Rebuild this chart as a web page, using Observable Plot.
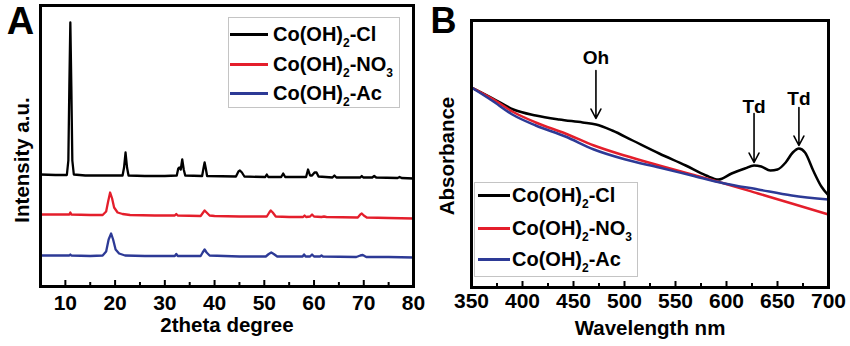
<!DOCTYPE html>
<html>
<head>
<meta charset="utf-8">
<script src="https://cdn.jsdelivr.net/npm/d3@7"></script>
<script src="https://cdn.jsdelivr.net/npm/@observablehq/plot@0.6"></script>
<style>
  html, body { margin: 0; padding: 0; background: #fff; }
  #wrap { position: relative; width: 850px; height: 346px; display: flex; font-family: "Liberation Sans", Arial, sans-serif; font-weight: bold; }
  .legend { position: absolute; border: 1px solid #c4c4c4; background: #fff; box-sizing: border-box; }
  .row { position: absolute; left: 0; display: flex; align-items: center; height: 24px; }
  .swatch { height: 3px; }
  .lbl { font-size: 20px; font-weight: bold; white-space: nowrap; color: #000; line-height: 24px; }
  .lbl sub { font-size: 12px; vertical-align: -6px; line-height: 0; }
</style>
</head>
<body>
<div id="wrap"></div>
<script>
// ---------- data ----------
const seriesNames = ["Co(OH)<sub>2</sub>-Cl", "Co(OH)<sub>2</sub>-NO<sub>3</sub>", "Co(OH)<sub>2</sub>-Ac"];
const seriesColors = ["#000000", "#e41e2b", "#2d3a96"];

// Panel A: XRD (2theta degree, intensity a.u.)
const xrdCl = [
  [5,112],[8,111.5],[10.3,111.5],[10.6,126],[10.8,200],[11.0,264],[11.2,200],[11.4,126],[11.7,112],
  [14,111],[18,111],[21.5,111],[21.8,119],[22.1,134],[22.4,119],[22.7,111],
  [26,110.5],[30,110.5],[32.4,111],[32.7,118],[32.9,119],[33.2,117],[33.5,127],[33.8,117],[34.1,111],
  [37.5,110.5],[37.8,119],[38.0,124],[38.2,119],[38.5,110.5],
  [44.3,110],[44.8,115],[45.1,116],[45.5,114],[46,110],
  [50.2,109.5],[50.5,112],[50.8,109.5],
  [53.4,109.5],[53.8,113],[54.2,109.5],
  [58.4,109.5],[58.8,117],[59.2,111],[59.6,111],[60.1,114],[60.5,114],[60.9,110],
  [63.7,109],[64.1,111],[64.5,109],
  [69.3,109],[69.6,110.5],[69.9,109],
  [71.7,109],[72.1,110.5],[72.5,109],
  [76.8,108.5],[77.2,109.5],[77.6,108.5],
  [80,108]
];
const xrdNO3 = [
  [5,72],[8,72],[10.8,72],[11.0,74],[11.2,72],[15,71.5],[17.5,71.5],[18.2,75],[18.6,85],[19.0,94],
  [19.4,88],[19.8,79],[20.5,74],[21.5,72.5],[23,71.5],[28,71],[32,71],[32.3,72.5],[32.6,71],
  [37.2,70.5],[37.7,74],[38.0,76],[38.4,74],[39,71],[40,70.5],[45,70],[50.5,70],[51.0,74],[51.3,76],
  [51.7,74],[52.3,70],[55,69.5],[57.8,69.5],[58.1,71],[58.4,69.5],[59.2,70],[59.6,72],[60.0,70],
  [61.5,69.5],[62,70],[62.5,69.5],[68.8,69],[69.3,72],[69.6,73],[70.0,71],[70.6,69],[75,68.5],[80,68]
];
const xrdAc = [
  [5,31],[8,31],[10.8,31],[11.0,32],[11.2,31],[15,30.5],[17.5,31],[18.2,35],[18.7,47],[19.2,53],
  [19.6,47],[20.1,37],[20.8,33],[22,31],[26,30.5],[32,30.5],[32.3,32.5],[32.6,30.5],
  [37.2,30.5],[37.6,34],[38.0,37],[38.4,34],[39.0,31],[45,30],[50.3,30],[50.9,32.5],[51.4,34],
  [51.9,32.5],[52.6,30],[57.7,30],[58.0,32],[58.3,30],[59.2,30],[59.6,32],[60.0,30],[61.2,30],
  [61.5,31],[61.8,30],[68.5,29.5],[69.3,31],[69.8,31.5],[70.5,29.5],[75,29.5],[80,29]
];
const xrdMajorTicks = [10, 20, 30, 40, 50, 60, 70, 80];
const xrdMinorTicks = [15, 25, 35, 45, 55, 65, 75];

// Panel B: UV-vis (wavelength nm, absorbance a.u.)
const uvCl = [
  [350,2.00],[371,1.89],[391,1.78],[413,1.72],[436,1.68],[459,1.65],[472,1.63],[488,1.57],[508,1.47],
  [534,1.34],[560,1.22],[580,1.12],[592,1.08],[605,1.14],[618,1.19],[627,1.22],[634,1.21],[643,1.17],
  [650,1.18],[658,1.25],[665,1.35],[671,1.39],[677,1.35],[685,1.17],[693,1.01],[700,0.92]
];
const uvNO3 = [
  [350,2.00],[370,1.89],[390,1.76],[413,1.65],[442,1.54],[470,1.42],[500,1.32],[534,1.22],[566,1.13],
  [598,1.04],[631,0.94],[664,0.84],[700,0.73]
];
const uvAc = [
  [350,2.00],[370,1.87],[390,1.73],[413,1.62],[442,1.51],[470,1.38],[501,1.28],[534,1.20],[566,1.12],
  [598,1.04],[631,0.98],[664,0.92],[700,0.88]
];
const uvMajorTicks = [350, 400, 450, 500, 550, 600, 650, 700];
const uvMinorTicks = [375, 425, 475, 525, 575, 625, 675];

// annotations (panel B)
const annotText = ["Oh", "Td", "Td"];
const annotNm = [472, 627, 671];
const annotLabelY = [2.30, 1.81, 1.89];
const annotArrowTop = [2.17, 1.74, 1.80];
const annotArrowTip = [1.69, 1.25, 1.42];

// ---------- drawing ----------
const baseStyle = {
  fontFamily: "'Liberation Sans', Arial, sans-serif",
  fontWeight: "bold",
  fontSize: "20px",
  background: "white",
  color: "black",
  overflow: "visible"
};

const xrdSeries = [xrdCl, xrdNO3, xrdAc];
const HA = 346 - 5 - 60;
const plotA = Plot.plot({
  width: 425, height: 346,
  marginLeft: 40, marginRight: 12, marginTop: 5, marginBottom: 60,
  x: {domain: [5, 80], axis: null},
  y: {domain: [0, 281], axis: null},
  style: baseStyle,
  marks: [
    ...xrdSeries.map((s, i) => Plot.line(s, {x: d => d[0], y: d => d[1], stroke: seriesColors[i], strokeWidth: 2.3})),
    Plot.tickX(xrdMajorTicks, {x: d => d, insetTop: HA - 6, strokeWidth: 2, stroke: "#000"}),
    Plot.tickX(xrdMinorTicks, {x: d => d, insetTop: HA - 4, strokeWidth: 2, stroke: "#000"}),
    Plot.axisX(xrdMajorTicks, {tickSize: 0, tickPadding: 9, fontSize: 21, label: null}),
    Plot.frame({stroke: "#000", strokeWidth: 3}),
    Plot.text(["2theta degree"], {text: d => d, frameAnchor: "bottom", dy: 39, textAnchor: "middle", lineAnchor: "middle", fontSize: 20.5}),
    Plot.text(["Intensity a.u."], {text: d => d, frameAnchor: "left", rotate: -90, dx: -18, dy: 14, textAnchor: "middle", lineAnchor: "middle", fontSize: 20.5}),
    Plot.text(["A"], {text: d => d, frameAnchor: "top-left", dx: -20, dy: 16, textAnchor: "middle", lineAnchor: "middle", fontSize: 38})
  ]
});

const uvSeries = [uvCl, uvNO3, uvAc];
const HB = 346 - 20 - 59;
const annot = annotText.map((t, i) => ({t, x: annotNm[i], ly: annotLabelY[i], y1: annotArrowTop[i], y2: annotArrowTip[i]}));
const plotB = Plot.plot({
  width: 425, height: 346,
  marginLeft: 46, marginRight: 22, marginTop: 20, marginBottom: 59,
  x: {domain: [350, 700], axis: null},
  y: {domain: [0, 2.67], axis: null},
  style: baseStyle,
  marks: [
    ...uvSeries.map((s, i) => Plot.line(s, {x: d => d[0], y: d => d[1], stroke: seriesColors[i], strokeWidth: 2.5, curve: "monotone-x"})),
    Plot.arrow(annot, {x1: "x", x2: "x", y1: "y1", y2: "y2", stroke: "#000", strokeWidth: 1.6, headLength: 10, headAngle: 55}),
    Plot.text(annot, {x: "x", y: "ly", text: "t", fontSize: 19, textAnchor: "middle", lineAnchor: "middle"}),
    Plot.tickX(uvMajorTicks, {x: d => d, insetTop: HB - 6, strokeWidth: 2, stroke: "#000"}),
    Plot.tickX(uvMinorTicks, {x: d => d, insetTop: HB - 4, strokeWidth: 2, stroke: "#000"}),
    Plot.axisX(uvMajorTicks, {tickSize: 0, tickPadding: 6, fontSize: 21, label: null}),
    Plot.frame({stroke: "#000", strokeWidth: 3}),
    Plot.text(["Wavelength nm"], {text: d => d, frameAnchor: "bottom", dy: 41, textAnchor: "middle", lineAnchor: "middle", fontSize: 20.5}),
    Plot.text(["Absorbance"], {text: d => d, frameAnchor: "left", rotate: -90, dx: -24, dy: 2, textAnchor: "middle", lineAnchor: "middle", fontSize: 20.5}),
    Plot.text(["B"], {text: d => d, frameAnchor: "top-left", dx: -28, dy: 1, textAnchor: "middle", lineAnchor: "middle", fontSize: 36})
  ]
});

const wrap = document.getElementById("wrap");
wrap.appendChild(plotA);
wrap.appendChild(plotB);

function addLegend(box, rowTops, lineLeft, lineWidth, textLeft) {
  const lg = document.createElement("div");
  lg.className = "legend";
  lg.style.left = box.left + "px";
  lg.style.top = box.top + "px";
  lg.style.width = box.width + "px";
  lg.style.height = box.height + "px";
  seriesNames.forEach((name, i) => {
    const row = document.createElement("div");
    row.className = "row";
    row.style.top = (rowTops[i] - box.top - 12) + "px";
    const sw = document.createElement("div");
    sw.className = "swatch";
    sw.style.marginLeft = (lineLeft - box.left - 1) + "px";
    sw.style.width = lineWidth + "px";
    sw.style.background = seriesColors[i];
    const tx = document.createElement("div");
    tx.className = "lbl";
    tx.style.marginLeft = (textLeft - lineLeft - lineWidth) + "px";
    tx.innerHTML = name;
    row.appendChild(sw);
    row.appendChild(tx);
    lg.appendChild(row);
  });
  wrap.appendChild(lg);
}
addLegend({left: 228, top: 17, width: 172, height: 91}, [33, 63, 92], 230, 38, 273);
addLegend({left: 474, top: 182, width: 164, height: 95}, [194, 227, 258], 478, 32, 512);
</script>
</body>
</html>
